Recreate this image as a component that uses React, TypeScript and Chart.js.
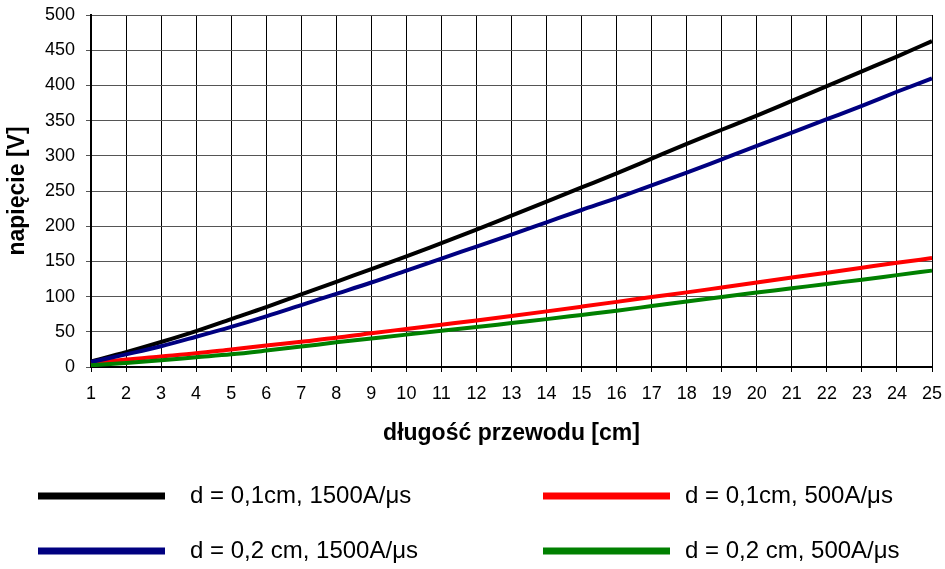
import React, { useEffect, useRef } from "react";
import { Chart, registerables } from "chart.js";

Chart.register(...registerables);

const categories = [
  "1", "2", "3", "4", "5", "6", "7", "8", "9", "10", "11", "12", "13",
  "14", "15", "16", "17", "18", "19", "20", "21", "22", "23", "24", "25",
];

const seriesLabels = [
  "d = 0,1cm, 1500A/μs",
  "d = 0,1cm, 500A/μs",
  "d = 0,2 cm, 1500A/μs",
  "d = 0,2 cm, 500A/μs",
];

const seriesColors = ["#000000", "#ff0000", "#000080", "#008000"];

const thin1500 = [
  8, 21, 35.5, 51, 68, 85, 103, 121, 139, 157, 176, 195, 215, 235, 255, 275,
  296, 317, 337, 357, 378, 399, 420, 441, 463,
];
const thin500 = [
  5, 10.5, 15, 19.5, 25, 30.5, 36, 41.5, 48, 54, 60, 66, 72.4, 79, 85.7,
  92.5, 99.5, 106, 113, 120, 127, 134, 141, 148, 154.7,
];
const thick1500 = [
  7, 18, 29.5, 43, 57, 72, 88, 104, 120, 137, 154, 171, 188, 205.5, 223, 240,
  258, 276, 295, 314, 333, 352, 371, 391, 410,
];
const thick500 = [
  2.4, 5.7, 9.5, 13.8, 18, 23.3, 29, 35, 40.5, 46, 51.4, 56.7, 62.4, 68,
  74, 80, 86.5, 93, 99.5, 105.7, 111.8, 118, 124, 130.5, 136.9,
];

const seriesValues = [thin1500, thin500, thick1500, thick500];
const drawOrder = [3, 2, 1, 0];

const yMin = 0;
const yMax = 500;
const yStep = 50;

const xTitle = "długość przewodu [cm]";
const yTitle = "napięcie [V]";

const FONT = '"Liberation Sans", Arial, sans-serif';

const legendPlugin = {
  id: "bottomLegend",
  afterDraw(chart: any) {
    const ctx = chart.ctx;
    ctx.save();
    chart.data.datasets.forEach((ds: any, i: number) => {
      const col = i % 2;
      const row = Math.floor(i / 2);
      const lx = col === 0 ? 38 : 543;
      const tx = col === 0 ? 190 : 685;
      const y = row === 0 ? 496 : 551;
      ctx.fillStyle = ds.borderColor;
      ctx.fillRect(lx, y - 3.5, 127, 7);
      ctx.fillStyle = "#000";
      ctx.font = `24px ${FONT}`;
      ctx.textBaseline = "middle";
      ctx.textAlign = "left";
      ctx.fillText(ds.label, tx, y);
    });
    ctx.restore();
  },
};

export default function App() {
  const ref = useRef<HTMLCanvasElement | null>(null);

  useEffect(() => {
    document.body.style.margin = "0";
    if (!ref.current) return;
    const chart = new Chart(ref.current, {
      type: "line",
      data: {
        labels: categories,
        datasets: seriesValues.map((vals, i) => ({
          label: seriesLabels[i],
          data: vals,
          borderColor: seriesColors[i],
          backgroundColor: seriesColors[i],
          borderWidth: 4,
          pointRadius: 0,
          cubicInterpolationMode: "monotone",
          fill: false,
          order: drawOrder[i],
        })),
      },
      options: {
        animation: false,
        responsive: false,
        devicePixelRatio: 1,
        layout: { padding: { top: 15, right: 13, left: 0, bottom: 112 } },
        plugins: {
          legend: { display: false },
          tooltip: { enabled: false },
        },
        scales: {
          x: {
            type: "category",
            offset: false,
            afterFit: (s: any) => {
              s.height = 90;
              s.paddingLeft = 0;
              s.paddingRight = 0;
            },
            grid: {
              color: "#000",
              lineWidth: 1,
              tickLength: 5,
              tickColor: "#000",
            },
            border: { display: true, color: "#000", width: 2 },
            ticks: {
              color: "#000",
              font: { family: FONT, size: 18 },
              padding: 11,
              maxRotation: 0,
              autoSkip: false,
            },
            title: {
              display: true,
              text: xTitle,
              color: "#000",
              font: { family: FONT, size: 23, weight: "bold" },
              padding: { top: 0, bottom: 10 },
            },
          },
          y: {
            min: yMin,
            max: yMax,
            afterFit: (s: any) => {
              s.width = 91;
              s.paddingTop = 0;
              s.paddingBottom = 0;
            },
            grid: {
              color: "#555",
              lineWidth: 1,
              tickLength: 5,
              tickColor: "#555",
            },
            border: { display: true, color: "#000", width: 2 },
            ticks: {
              stepSize: yStep,
              color: "#000",
              font: { family: FONT, size: 18 },
              padding: 11,
            },
            title: {
              display: true,
              text: yTitle,
              color: "#000",
              font: { family: FONT, size: 23, weight: "bold" },
              padding: { top: 4, bottom: 0 },
            },
          },
        },
      },
      plugins: [legendPlugin],
    } as any);
    return () => chart.destroy();
  }, []);

  return (
    <div style={{ position: "absolute", left: 0, top: 0, width: 945, height: 569 }}>
      <canvas ref={ref} width={945} height={569} style={{ width: 945, height: 569 }} />
    </div>
  );
}
